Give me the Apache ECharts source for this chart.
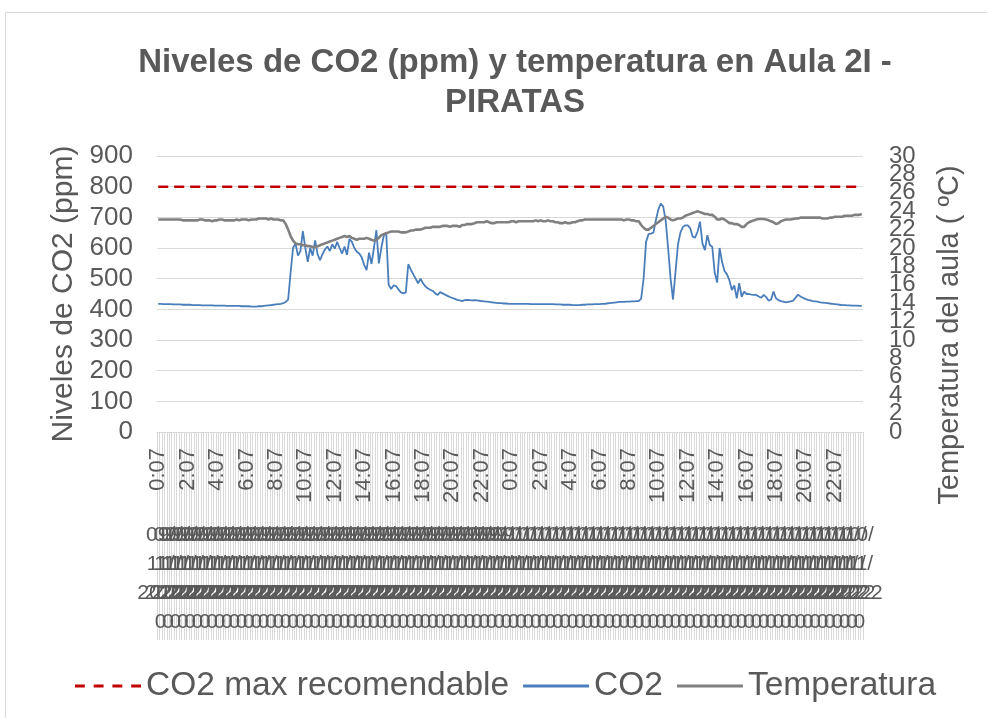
<!DOCTYPE html>
<html>
<head>
<meta charset="utf-8">
<script src="https://cdn.jsdelivr.net/npm/echarts@6/dist/echarts.min.js"></script>
<style>
  html, body { margin: 0; padding: 0; background: #fff; }
  #chart { width: 987px; height: 718px; }
</style>
</head>
<body>
<div id="chart"></div>
<script>
var chart = echarts.init(document.getElementById("chart"));

// lecturas cada 10 minutos, dos dias, empezando a las 0:07
var startMinute = 7;
var stepMinutes = 10;
var pointCount = 288;
var days = ['09/11/2022', '10/11/2022'];
var dateLabelsPerDay = 48;
var co2Limit = 800;

// CO2 (ppm)
var co2 = [
  418,418,417,417,417,417,416,416,416,416,415,415,
  415,415,414,414,414,414,413,413,413,413,413,412,
  412,412,412,412,411,411,411,411,411,411,410,410,
  410,410,409,409,409,410,410,411,412,413,414,415,
  416,417,418,420,424,432,520,600,615,575,590,655,
  600,555,600,575,625,580,560,580,595,605,590,612,
  598,620,600,582,605,578,630,620,600,588,582,570,
  545,528,585,548,600,658,550,600,640,650,480,466,
  478,476,465,455,452,455,547,530,515,500,485,500,
  485,475,468,464,460,452,447,456,452,448,444,440,
  437,434,431,429,427,430,431,430,429,430,429,428,
  427,426,425,424,423,422,421,420,420,419,419,418,
  418,418,418,418,418,418,418,418,417,417,417,417,
  417,417,417,417,417,417,416,416,416,415,415,415,
  415,414,414,414,414,415,415,416,416,416,417,417,
  417,418,418,419,420,421,422,423,424,424,424,425,
  425,426,426,427,427,435,500,620,645,647,650,690,
  725,745,735,690,600,500,432,520,610,650,668,674,
  674,665,637,634,653,686,615,593,642,610,604,520,
  487,600,555,525,514,495,463,478,436,485,441,458,
  450,450,448,447,447,442,438,447,440,428,432,458,
  436,430,427,425,423,424,426,428,438,448,442,438,
  434,431,429,427,426,425,423,422,421,420,419,418,
  417,416,415,414,414,413,413,412,412,412,411,411
];

// Temperatura (ºC)
var temperatura = [
  23.1,23.1,23.1,23.1,23.1,23.1,23.1,23.1,23.1,23.1,23.0,23.0,
  23.0,23.0,23.0,23.0,23.0,23.1,23.1,23.0,23.0,23.0,22.9,23.0,
  23.0,23.1,23.1,23.0,23.0,23.0,23.0,23.0,23.1,23.0,23.1,23.1,
  23.1,23.0,23.1,23.1,23.1,23.2,23.2,23.2,23.2,23.1,23.2,23.1,
  23.1,23.1,23.0,23.0,22.6,22.0,21.3,20.8,20.5,20.4,20.4,20.3,
  20.3,20.2,20.2,20.1,20.1,20.2,20.3,20.4,20.5,20.6,20.7,20.8,
  20.9,21.0,21.1,21.2,21.3,21.2,21.3,21.1,21.0,20.9,21.0,21.0,
  21.0,21.1,21.0,20.9,20.8,20.9,21.1,21.4,21.5,21.6,21.7,21.8,
  21.8,21.8,21.8,21.7,21.7,21.7,21.8,21.9,21.9,22.0,22.0,22.0,
  22.1,22.2,22.2,22.2,22.3,22.3,22.3,22.3,22.4,22.4,22.4,22.3,
  22.4,22.4,22.4,22.3,22.5,22.5,22.6,22.6,22.6,22.7,22.8,22.8,
  22.8,22.8,22.9,22.8,22.7,22.7,22.8,22.8,22.8,22.8,22.8,22.8,
  22.9,22.9,22.8,22.9,22.9,22.9,22.9,22.9,22.9,22.9,23.0,22.9,
  23.0,22.9,22.9,23.0,22.9,22.9,22.8,22.8,22.7,22.7,22.8,22.7,
  22.7,22.8,22.8,22.9,23.0,23.0,23.1,23.1,23.1,23.1,23.1,23.1,
  23.1,23.1,23.1,23.1,23.1,23.1,23.1,23.1,23.1,23.1,23.0,23.1,
  23.1,23.0,23.0,22.9,22.9,22.5,22.2,22.0,22.0,22.2,22.4,22.6,
  22.8,23.0,23.2,23.4,23.3,23.1,23.0,23.1,23.2,23.2,23.3,23.5,
  23.6,23.7,23.8,23.9,24.0,23.9,23.8,23.7,23.7,23.6,23.6,23.4,
  23.1,23.1,23.2,23.1,22.9,22.7,22.7,22.6,22.6,22.5,22.3,22.3,
  22.6,22.8,22.9,23.0,23.1,23.15,23.15,23.15,23.1,23.0,22.9,22.8,
  22.6,22.7,22.9,23.0,23.1,23.1,23.1,23.15,23.2,23.2,23.3,23.3,
  23.3,23.3,23.3,23.3,23.3,23.3,23.3,23.2,23.2,23.2,23.3,23.3,
  23.4,23.4,23.4,23.4,23.5,23.5,23.5,23.5,23.6,23.6,23.6,23.7
];

// categorias de hora
var horas = [];
for (var i = 0; i < pointCount; i++) {
    var m = (startMinute + i * stepMinutes) % (24 * 60);
    var mm = m % 60;
    horas.push(Math.floor(m / 60) + ':' + (mm < 10 ? '0' + mm : mm));
}
// segundo nivel (fechas), se pisan unas con otras como en el original
var fechas = [];
for (var d = 0; d < days.length; d++) {
    var p = days[d].split('/');
    for (var k = 0; k < dateLabelsPerDay; k++) {
        fechas.push(p[0] + '/\n' + p[1] + '/\n' + p[2] + '\n0');
    }
}
var limite = [];
for (var j = 0; j < pointCount; j++) limite.push(co2Limit);

var gris = '#595959';
var base = 'Liberation Sans, Arial, sans-serif';
var estrecha = 'Liberation Sans Narrow, Arial Narrow, Liberation Sans, sans-serif';

// iconos de leyenda: linea discontinua y lineas continuas sin simbolo
var iconDash = 'path://M0,0H10V3H0Z M19,0H29V3H19Z M38,0H48V3H38Z M57,0H67V3H57Z';
var iconLine = 'path://M0,0H66V3H0Z';

// eje derecho de temperatura; las etiquetas se reparten en dos ejes
// superpuestos para que se vean todas aunque se monten
function ejeTemp(resto, conSerie) {
    return {
        type: 'value',
        min: 0,
        max: 30,
        interval: 2,
        position: 'right',
        offset: 0,
        axisLine: { show: false },
        axisTick: { show: false },
        axisLabel: {
            margin: 26,
            fontFamily: estrecha,
            fontSize: 24,
            color: gris,
            formatter: function (v) { return v % 4 === resto ? String(v) : ''; }
        },
        splitLine: { show: false }
    };
}

chart.setOption({
    animation: false,
    backgroundColor: '#fff',
    title: {
        text: 'Niveles de CO2 (ppm) y temperatura en Aula 2I -\nPIRATAS',
        left: 510,
        textAlign: 'center',
        top: 38,
        textStyle: {
            fontFamily: base,
            fontSize: 33,
            fontWeight: 'bold',
            color: gris,
            lineHeight: 40
        }
    },
    graphic: [{
        type: 'rect',
        shape: { x: 5.5, y: 12.5, width: 1000, height: 720 },
        style: { fill: 'none', stroke: '#d9d9d9', lineWidth: 1 },
        silent: true
    }, {
        type: 'text',
        x: 950,
        y: 335,
        rotation: Math.PI / 2,
        style: {
            text: 'Temperatura del aula ( ºC)',
            font: '29px Liberation Sans, Arial, sans-serif',
            fill: gris,
            align: 'center',
            verticalAlign: 'middle'
        }
    }],
    legend: {
        left: 70,
        top: 664,
        itemWidth: 66,
        itemHeight: 3,
        itemGap: 14,
        textStyle: { fontFamily: base, fontSize: 33.5, color: gris },
        data: [
            { name: 'CO2 max recomendable', icon: iconDash },
            { name: 'CO2', icon: iconLine },
            { name: 'Temperatura', icon: iconLine }
        ]
    },
    grid: { left: 157, right: 124, top: 156, bottom: 286 },
    xAxis: [{
        type: 'category',
        data: horas,
        boundaryGap: true,
        axisLine: { lineStyle: { color: '#d9d9d9' } },
        axisTick: {
            show: true,
            interval: 0,
            length: 208,
            lineStyle: { color: '#d9d9d9' }
        },
        axisLabel: {
            interval: 11,
            rotate: 90,
            margin: 16,
            fontFamily: base,
            fontSize: 22,
            color: gris
        }
    }, {
        type: 'category',
        data: fechas,
        position: 'bottom',
        offset: 0,
        axisLine: { show: false },
        axisTick: { show: false },
        axisLabel: {
            interval: 0,
            margin: 89,
            fontFamily: estrecha,
            fontSize: 21,
            lineHeight: 29,
            color: gris
        }
    }],
    yAxis: [{
        type: 'value',
        min: 0,
        max: 900,
        interval: 100,
        name: 'Niveles de CO2 (ppm)',
        nameLocation: 'middle',
        nameRotate: 90,
        nameGap: 76,
        nameTextStyle: { fontFamily: base, fontSize: 30, color: gris },
        axisLine: { show: false },
        axisTick: { show: false },
        axisLabel: { margin: 24, fontFamily: base, fontSize: 26, color: gris },
        splitLine: { lineStyle: { color: '#d9d9d9' } }
    }, ejeTemp(0), ejeTemp(2)],
    series: [{
        name: 'CO2 max recomendable',
        type: 'line',
        data: limite,
        symbol: 'none',
        itemStyle: { color: '#c00000' },
        lineStyle: { color: '#c00000', width: 2.5, type: [10, 6] }
    }, {
        name: 'CO2',
        type: 'line',
        data: co2,
        symbol: 'none',
        itemStyle: { color: '#4a7ebb' },
        lineStyle: { color: '#4a7ebb', width: 1.8 }
    }, {
        name: 'Temperatura',
        type: 'line',
        yAxisIndex: 1,
        data: temperatura,
        symbol: 'none',
        itemStyle: { color: '#808080' },
        lineStyle: { color: '#808080', width: 2.6 }
    }]
});
</script>
</body>
</html>
